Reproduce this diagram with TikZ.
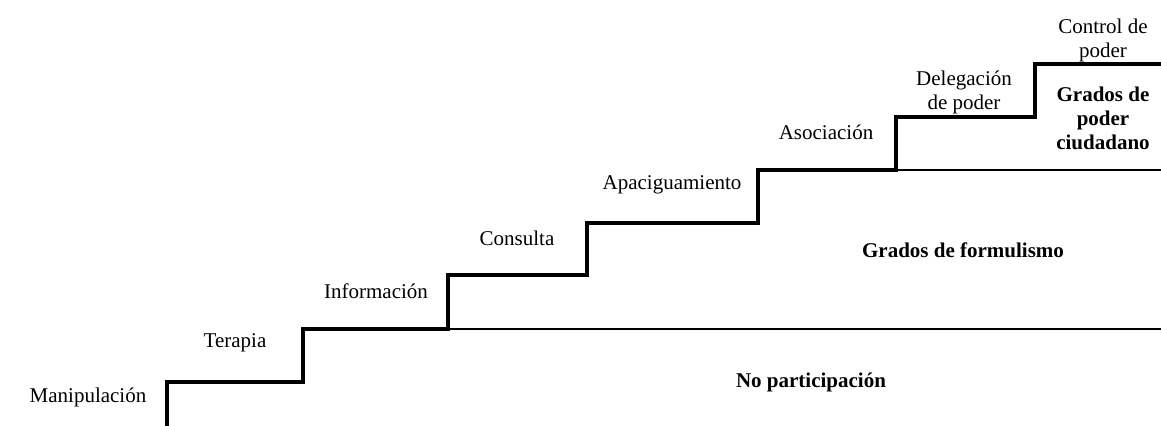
\documentclass[tikz,border=0pt]{standalone}
\usepackage{fontspec}
\setmainfont{Liberation Serif}
\usetikzlibrary{positioning}
\def\peldano#1#2#3#4{
  % 1: x
  % 2: y
  % 3: nombre
  % 4: texto
  \node[align=center,inner sep=0pt] (#3) at (#1,#2) {#4};
}
\def\grado#1#2#3#4{
  % 1: x
  % 2: y
  % 3: nombre
  % 4: texto
  \node[align=center,inner sep=0pt,font=\fontsize{10.5}{12}\selectfont\bfseries] (#3) at (#1,#2) {#4};
}

\begin{document}
\begin{tikzpicture}[x=0.5pt,y=-0.5pt,font=\fontsize{10.5}{12}\selectfont]
    \useasboundingbox (0,0) rectangle (1161,426);

    % escalera
    \draw[line width=2pt] (167,426) -- (167,382) -- (303,382) -- (303,329)
      -- (448,329) -- (448,275) -- (587,275) -- (587,223) -- (758,223)
      -- (758,170) -- (896,170) -- (896,117) -- (1035,117) -- (1035,64)
      -- (1161,64);
    \draw[line width=.75pt] (448,329) -- (1161,329) (896,170) -- (1161,170);

    % \peldano{x}{y}{nombre}{texto}
    \peldano{88}{397}{manip}{Manipulación}
    \peldano{235}{343}{terap}{Terapia}
    \peldano{376}{291}{info}{Información}
    \peldano{517}{238}{consul}{Consulta}
    \peldano{672}{185}{apaci}{Apaciguamiento}
    \peldano{826}{132}{asoc}{Asociación}
    \peldano{964}{92}{deleg}{Delegación\\de poder}
    \peldano{1103}{40}{control}{Control de\\poder}

    \grado{811}{382}{nopart}{No participación}
    \grado{963}{250}{formul}{Grados de formulismo}
    \grado{1103}{118}{ciudad}{Grados de\\poder\\ciudadano}
  \end{tikzpicture}
\end{document}
